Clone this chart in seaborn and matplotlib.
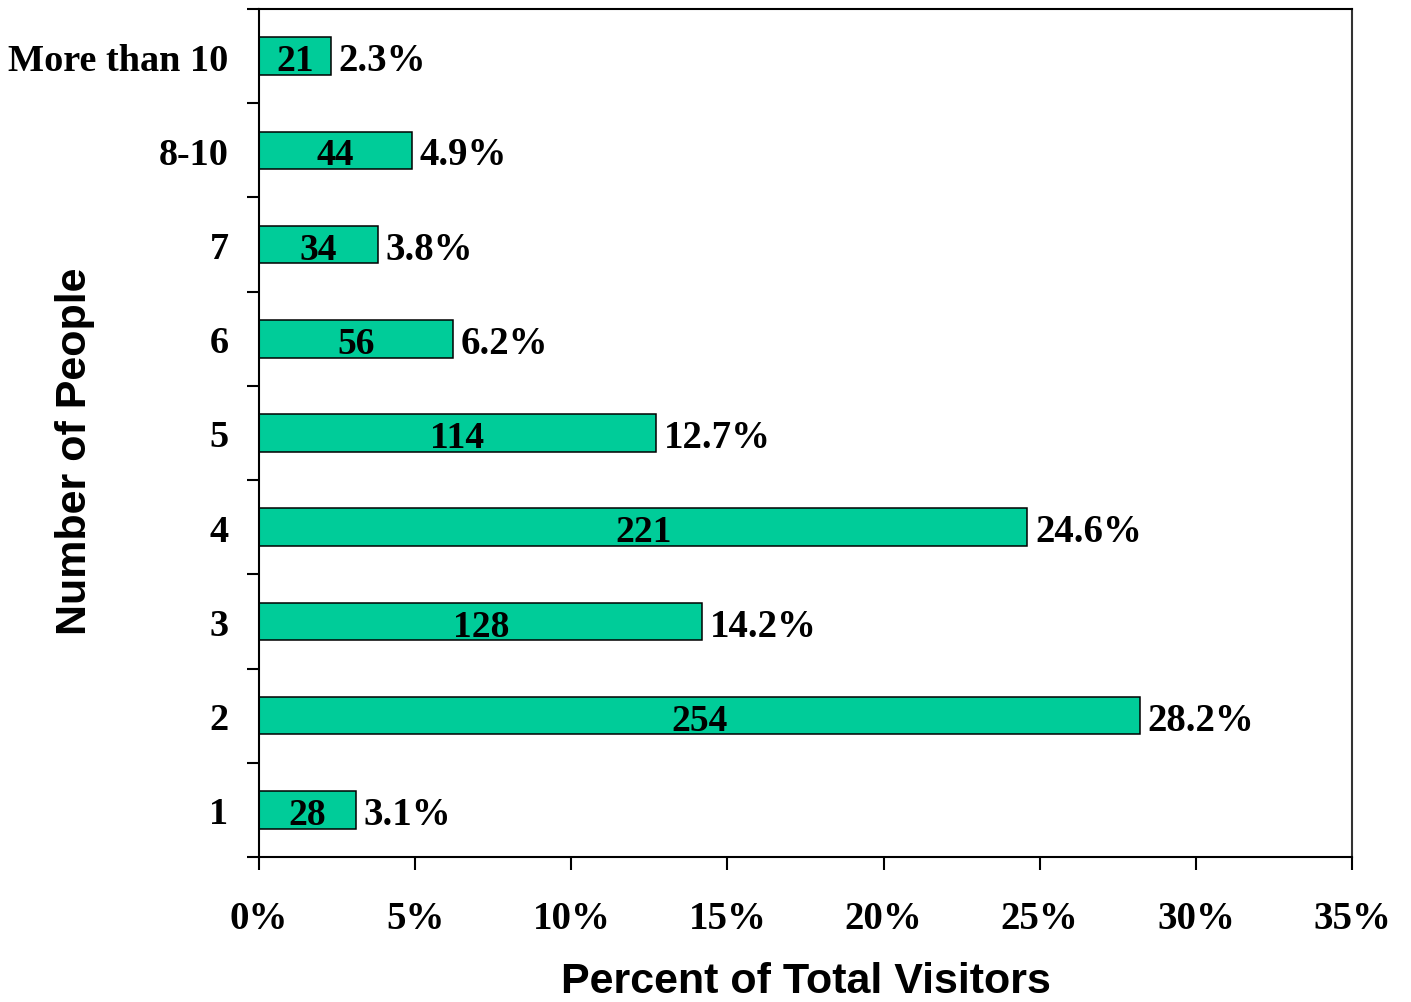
import matplotlib
matplotlib.use("Agg")
import matplotlib.pyplot as plt
from matplotlib.ticker import FixedLocator, PercentFormatter
import seaborn as sns
import pandas as pd
import numpy as np

# Party size categories, listed top to bottom
groups = ["More than 10", "8-10", "7", "6", "5", "4", "3", "2", "1"]
counts = [21, 44, 34, 56, 114, 221, 128, 254, 28]
percents = [2.3, 4.9, 3.8, 6.2, 12.7, 24.6, 14.2, 28.2, 3.1]

df = pd.DataFrame({"group": groups, "count": counts, "percent": percents})

sns.set_theme(style="white")
serif = ["Liberation Serif", "DejaVu Serif"]
sans = ["Liberation Sans", "DejaVu Sans"]

fig = plt.figure(figsize=(14.11, 10.03), dpi=100)
ax = fig.add_axes([0.1836, 0.1446, 0.9582 - 0.1836, 0.990 - 0.1446])

sns.barplot(data=df, x="percent", y="group", order=groups, orient="h",
            color="#00CC99", saturation=1, width=0.4,
            edgecolor="black", linewidth=1.1, ax=ax)

ax.set_xlim(0, 35)
ax.set_ylim(len(groups) - 0.5, -0.5)

# Count inside each bar, share of total just past its end
for i, (c, p) in enumerate(zip(counts, percents)):
    ax.text(p / 2, i + 0.15, f"{c}", ha="center", va="baseline",
            family=serif, fontweight="bold", fontsize=27, color="black")
    ax.text(p + 0.25, i + 0.15, f"{p:.1f}%", ha="left", va="baseline",
            family=serif, fontweight="bold", fontsize=28, color="black")

# X axis: percent ticks pointing down
ax.xaxis.set_major_locator(FixedLocator(np.arange(0, 36, 5)))
ax.xaxis.set_major_formatter(PercentFormatter(decimals=0))
ax.tick_params(axis="x", which="major", bottom=True, direction="out",
               length=9, width=1.5, color="black", pad=22,
               labelcolor="black")
for lbl in ax.get_xticklabels():
    lbl.set_fontfamily(serif)
    lbl.set_fontweight("bold")
    lbl.set_fontsize(28)

# Y axis: labels at category centres, tick marks on the boundaries
ax.yaxis.set_minor_locator(FixedLocator(np.arange(-0.5, len(groups), 1.0)))
ax.tick_params(axis="y", which="major", left=False, length=0, pad=22,
               labelcolor="black")
ax.tick_params(axis="y", which="minor", left=True, direction="out",
               length=9, width=1.5, color="black")
for lbl in ax.get_yticklabels():
    lbl.set_fontfamily(serif)
    lbl.set_fontweight("bold")
    lbl.set_fontsize(27.5)

ax.set_xlabel("Percent of Total Visitors", family=sans, fontweight="bold",
              fontsize=31, color="black")
ax.set_ylabel("Number of People", family=sans, fontweight="bold",
              fontsize=31, color="black")
ax.xaxis.set_label_coords(0.5, -0.123)
ax.yaxis.set_label_coords(-0.150, 0.48)

for side in ["left", "bottom", "top", "right"]:
    ax.spines[side].set_visible(True)
    ax.spines[side].set_color("black")
    ax.spines[side].set_linewidth(1.5)
ax.spines["right"].set_color("#333333")
ax.grid(False)

fig.savefig("out.png", dpi=100, facecolor="white")
